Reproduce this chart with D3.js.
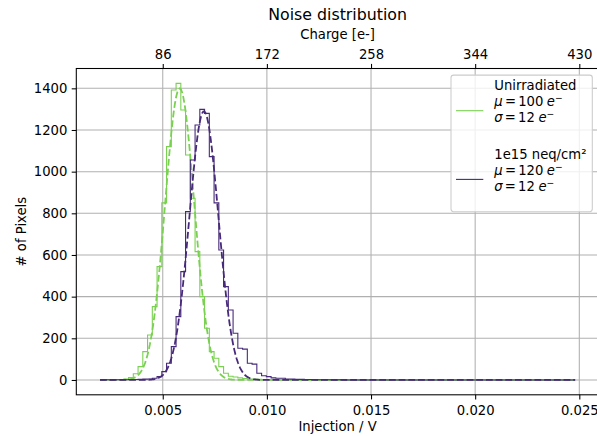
<!DOCTYPE html>
<html>
<head>
<meta charset="utf-8">
<script src="https://cdn.jsdelivr.net/npm/d3@7"></script>
<style>
  body { margin: 0; background: #fff; }
  svg { display: block; }
  text { font-family: "DejaVu Sans", sans-serif; fill: #000; }
</style>
</head>
<body>
<svg id="chart" width="597" height="436"></svg>
<script>
// Histogram binning (injection voltage, V)
const binLo = 0.00199;
const binHi = 0.0248;
const binCount = 100;

// Pixel counts per bin
const unirradiatedCounts = [
  0, 0, 0, 1, 2, 4, 12, 30, 64, 136,
  216, 352, 544, 850, 1120, 1392, 1424, 1296, 1080, 872,
  616, 400, 248, 136, 104, 64, 32, 18, 14, 10,
  7, 5, 4, 3, 2, 2, 1, 1, 0, 0,
  0, 0, 0, 0, 0, 0, 0, 0, 0, 0,
  0, 0, 0, 0, 0, 0, 0, 0, 0, 0,
  0, 0, 0, 0, 0, 0, 0, 0, 0, 0,
  0, 0, 0, 0, 0, 0, 0, 0, 0, 0,
  0, 0, 0, 0, 0, 0, 0, 0, 0, 0,
  0, 0, 0, 0, 0, 0, 0, 0, 0, 0
];
const irradiatedCounts = [
  0, 1, 0, 1, 1, 1, 2, 2, 3, 4,
  5, 8, 16, 40, 80, 160, 304, 520, 808, 1056,
  1224, 1299, 1280, 1072, 850, 624, 448, 336, 224, 152,
  148, 80, 76, 32, 20, 16, 10, 8, 8, 5,
  4, 3, 3, 2, 2, 1, 1, 1, 1, 0,
  1, 0, 0, 0, 0, 0, 0, 0, 0, 0,
  0, 0, 0, 0, 0, 0, 0, 0, 0, 0,
  0, 0, 0, 0, 0, 0, 0, 0, 0, 0,
  0, 0, 0, 0, 0, 0, 0, 0, 0, 0,
  0, 0, 0, 0, 0, 0, 0, 0, 0, 0
];

// Gaussian fit results (in electrons) and fit amplitudes (pixels)
const seriesNames = ["Unirradiated", "1e15 neq/cm²"];
const fitMu = [100, 120];
const fitSigma = [12, 12];
const fitAmplitude = [1400, 1290];
const seriesColors = ["#7ad151", "#472a7a"];

// Conversion from injection voltage to charge
const electronsPerVolt = 17200;

// Axis ticks
const injectionTicks = [0.005, 0.010, 0.015, 0.020, 0.025];
const chargeTicks = [86, 172, 258, 344, 430];
const pixelTicks = [0, 200, 400, 600, 800, 1000, 1200, 1400];

const svg = d3.select("#chart");
const plot = { left: 76.3, right: 598.9, top: 68.5, bottom: 394.8 };
const fontSize = 13.2;

const binWidth = (binHi - binLo) / binCount;
const edges = d3.range(binCount + 1).map(i => binLo + i * binWidth);

const countsAll = [unirradiatedCounts, irradiatedCounts];
const fitGrid = d3.range(0, 401).map(i => binLo + (binHi - binLo) * i / 400);
const fitCurves = fitMu.map((mu, k) => {
  const m = mu / electronsPerVolt, s = fitSigma[k] / electronsPerVolt;
  return fitGrid.map(v => [v, fitAmplitude[k] * Math.exp(-0.5 * ((v - m) / s) ** 2)]);
});

const xSpan = binHi - binLo;
const x = d3.scaleLinear()
  .domain([binLo - 0.05 * xSpan, binHi + 0.05 * xSpan])
  .range([plot.left, plot.right]);
const yMax = d3.max([...countsAll.flat(), ...fitCurves.flat().map(d => d[1])]);
const y = d3.scaleLinear()
  .domain([-0.05 * yMax, 1.05 * yMax])
  .range([plot.bottom, plot.top]);
const xCharge = d3.scaleLinear()
  .domain(x.domain().map(v => v * electronsPerVolt))
  .range(x.range());

// Grid
const grid = svg.append("g").attr("stroke", "#b0b0b0").attr("stroke-width", 1.06);
injectionTicks.forEach(t => grid.append("line")
  .attr("x1", x(t)).attr("x2", x(t)).attr("y1", plot.top).attr("y2", plot.bottom));
pixelTicks.forEach(t => grid.append("line")
  .attr("x1", plot.left).attr("x2", plot.right).attr("y1", y(t)).attr("y2", y(t)));

// Data
svg.append("clipPath").attr("id", "plotClip").append("rect")
  .attr("x", plot.left).attr("y", plot.top)
  .attr("width", plot.right - plot.left).attr("height", plot.bottom - plot.top);
const dataLayer = svg.append("g").attr("clip-path", "url(#plotClip)");

function stepPoints(counts) {
  const pts = [[edges[0], 0]];
  counts.forEach((c, i) => { pts.push([edges[i], c]); pts.push([edges[i + 1], c]); });
  pts.push([edges[binCount], 0]);
  return pts;
}
const line = d3.line().x(d => x(d[0])).y(d => y(d[1]));

countsAll.forEach((counts, k) => {
  dataLayer.append("path")
    .attr("d", line(stepPoints(counts)))
    .attr("fill", "none")
    .attr("stroke", seriesColors[k])
    .attr("stroke-width", 1.1)
    .attr("stroke-linejoin", "miter");
  dataLayer.append("path")
    .attr("d", line(fitCurves[k]))
    .attr("fill", "none")
    .attr("stroke", seriesColors[k])
    .attr("stroke-width", 1.8)
    .attr("stroke-dasharray", "6.8,2.9");
});

// Spines
const spines = svg.append("g").attr("stroke", "#000").attr("stroke-width", 1.06).attr("fill", "none");
spines.append("rect")
  .attr("x", plot.left).attr("y", plot.top)
  .attr("width", plot.right - plot.left).attr("height", plot.bottom - plot.top);

// Axes
function styleAxis(g) {
  g.select(".domain").remove();
  g.selectAll(".tick line").attr("stroke", "#000").attr("stroke-width", 1.06);
  g.selectAll(".tick text").attr("font-size", fontSize).attr("fill", "#000")
    .style("font-family", "'DejaVu Sans', sans-serif");
}
svg.append("g")
  .attr("transform", `translate(0,${plot.bottom})`)
  .call(d3.axisBottom(x).tickValues(injectionTicks).tickFormat(d3.format(".3f"))
    .tickSizeOuter(0).tickSize(4.6).tickPadding(6.5))
  .call(styleAxis);
svg.append("g")
  .attr("transform", `translate(0,${plot.top})`)
  .call(d3.axisTop(xCharge).tickValues(chargeTicks).tickFormat(d3.format("d"))
    .tickSizeOuter(0).tickSize(4.6).tickPadding(4.6))
  .call(styleAxis);
svg.append("g")
  .attr("transform", `translate(${plot.left},0)`)
  .call(d3.axisLeft(y).tickValues(pixelTicks).tickFormat(d3.format("d"))
    .tickSizeOuter(0).tickSize(4.6).tickPadding(4.4))
  .call(styleAxis);

// Titles and axis labels
const midX = (plot.left + plot.right) / 2;
svg.append("text").attr("x", midX).attr("y", 20).attr("text-anchor", "middle")
  .attr("font-size", 15.8).text("Noise distribution");
svg.append("text").attr("x", midX).attr("y", 39).attr("text-anchor", "middle")
  .attr("font-size", fontSize).text("Charge [e-]");
svg.append("text").attr("x", midX).attr("y", 431).attr("text-anchor", "middle")
  .attr("font-size", fontSize).text("Injection / V");
svg.append("text")
  .attr("transform", `translate(25.5,${(plot.top + plot.bottom) / 2}) rotate(-90)`)
  .attr("text-anchor", "middle").attr("font-size", fontSize).text("# of Pixels");

// Legend
const legend = svg.append("g");
legend.append("rect")
  .attr("x", 451).attr("y", 75.1).attr("width", 141.3).attr("height", 136.6)
  .attr("rx", 2.6).attr("fill", "#fff").attr("fill-opacity", 0.8)
  .attr("stroke", "#cccccc").attr("stroke-width", 1.06);

function mathLine(yPos, sym, value) {
  const t = legend.append("text").attr("x", 494.3).attr("y", yPos).attr("font-size", fontSize);
  t.append("tspan").attr("font-style", "italic").text(sym);
  t.append("tspan").attr("dx", 2.2).text("=");
  t.append("tspan").attr("dx", 2.2).text(d3.format("d")(value));
  t.append("tspan").attr("dx", 3.5).attr("font-style", "italic").text("e");
  t.append("tspan").attr("font-size", 9.2).attr("dy", -5.2).text("\u2212");
}

const entryTop = [90.3, 159];
seriesNames.forEach((name, k) => {
  const b = entryTop[k];
  legend.append("line")
    .attr("x1", 456).attr("x2", 483.3)
    .attr("y1", b + 20.4).attr("y2", b + 20.4)
    .attr("stroke", seriesColors[k]).attr("stroke-width", 1.1);
  legend.append("text").attr("x", 494.3).attr("y", b).attr("font-size", fontSize).text(name);
  mathLine(b + 16, "\u03bc", fitMu[k]);
  mathLine(b + 32, "\u03c3", fitSigma[k]);
});
</script>
</body>
</html>
